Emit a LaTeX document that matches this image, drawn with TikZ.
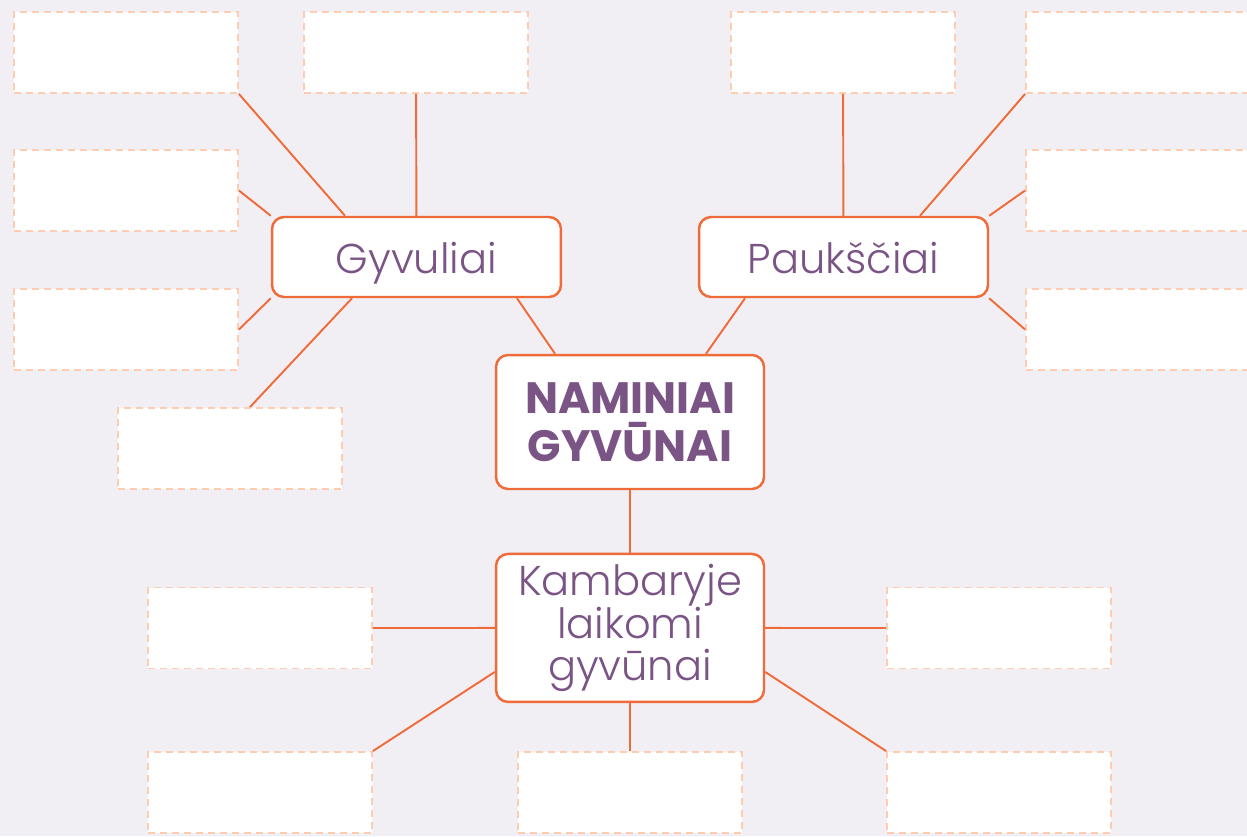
\documentclass[tikz,border=0pt]{standalone}
\usepackage{fontspec}
\setmainfont{Poppins}[UprightFont=* Light, BoldFont=* Bold]
\usepackage{tikz}
\usetikzlibrary{positioning}
\usepackage{xcolor}
\definecolor{bgpaper}{HTML}{F1EEF4}
\definecolor{mmorange}{HTML}{EF6C3A}
\definecolor{mmpurple}{HTML}{7B5486}
\definecolor{mmpeach}{HTML}{FCCDB1}
\tikzset{
mm_node/.style = {align=center, inner sep=0pt, text centered, text=mmpurple},
mm_root/.style = {mm_node, rectangle, rounded corners=0.24cm, draw=mmorange, fill=white, line width=1.4pt, minimum width=5.36cm, minimum height=2.68cm, font=\fontsize{25}{27.2}\selectfont\bfseries},% centras
mm_cat/.style = {mm_node, rectangle, rounded corners=0.24cm, draw=mmorange, fill=white, line width=1.4pt, minimum width=5.78cm, minimum height=1.6cm, text height=0.84cm, text depth=0.2cm, font=\fontsize{23.7}{24}\selectfont},% grupe
mm_box/.style = {mm_node, rectangle, draw=mmpeach, fill=white, dash pattern=on 0.14cm off 0.1cm, line width=1.1pt, minimum width=4.48cm, minimum height=1.62cm},% tuscias langelis
mm_line/.style = {draw=mmorange, line width=1.1pt}
}

\begin{document}
\begin{tikzpicture}[x=0.02cm, y=-0.02cm]
	\useasboundingbox (0,0) rectangle (1247,836);
	\clip (0,0) rectangle (1247,836);
	\fill [bgpaper] (0,0) rectangle (1247,836);
	% centras ir grupes
	\node [mm_root] (root) at (630,422) {NAMINIAI\\GYVŪNAI};
	\node [mm_root, font=\fontsize{23.7}{24.2}\selectfont, minimum height=2.96cm, below=1.25cm of root] (kamb) {Kambaryje\\laikomi\\gyvūnai};
	\node [mm_cat] (gyv) at (416.5,257) {Gyvuliai};
	\node [mm_cat] (pauk) at (843.5,257) {Paukščiai};
	% tusti langeliai
	\node [mm_box] (b1) at (126,52.5) {};
	\node [mm_box] (b2) at (416,52.5) {};
	\node [mm_box] (b3) at (126,190.5) {};
	\node [mm_box] (b4) at (126,329.5) {};
	\node [mm_box] (b5) at (230,448.5) {};
	\node [mm_box] (b6) at (843,52.5) {};
	\node [mm_box] (b7) at (1138,52.5) {};
	\node [mm_box] (b8) at (1138,190.5) {};
	\node [mm_box] (b9) at (1138,329.5) {};
	\node [mm_box] (b10) at (260,628) {};
	\node [mm_box] (b11) at (999,628) {};
	\node [mm_box] (b12) at (260,792.5) {};
	\node [mm_box] (b13) at (630,792.5) {};
	\node [mm_box] (b14) at (999,792.5) {};
	% jungtys
	\draw [mm_line] ([xshift=-1.5cm]root.north) -- ([xshift=2.01cm]gyv.south);
	\draw [mm_line] ([xshift=1.52cm]root.north) -- ([xshift=-1.97cm]pauk.south);
	\draw [mm_line] (root) -- (kamb);
	\draw [mm_line] (b1.south east) -- ([xshift=-1.43cm]gyv.north);
	\draw [mm_line] (b2) -- (gyv);
	\draw [mm_line] (b3.east) -- (gyv.north west);
	\draw [mm_line] (b4.east) -- (gyv.south west);
	\draw [mm_line] ([xshift=0.4cm]b5.north) -- ([xshift=-1.29cm]gyv.south);
	\draw [mm_line] (b6) -- (pauk);
	\draw [mm_line] (b7.south west) -- ([xshift=1.53cm]pauk.north);
	\draw [mm_line] (b8.west) -- (pauk.north east);
	\draw [mm_line] (b9.west) -- (pauk.south east);
	\draw [mm_line] (b10) -- (kamb);
	\draw [mm_line] (b11) -- (kamb);
	\draw [mm_line] (b12.north east) -- ([yshift=-0.88cm]kamb.west);
	\draw [mm_line] (b13) -- (kamb);
	\draw [mm_line] (b14.north west) -- ([yshift=-0.88cm]kamb.east);
\end{tikzpicture}
\end{document}
